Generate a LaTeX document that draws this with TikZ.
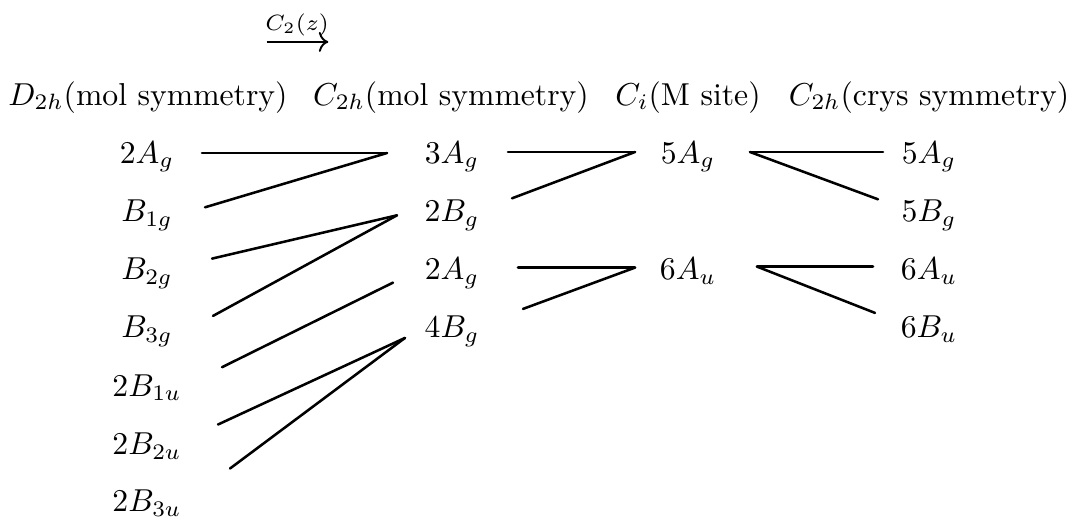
\documentclass[tikz,border=0pt]{standalone}
\usepackage{amsmath}
\usetikzlibrary{arrows.meta, calc}

\begin{document}
\begin{tikzpicture}[
    x=0.3155pt, y=-0.3155pt,
    head/.style={anchor=base, inner sep=0pt},
    irrep/.style={anchor=base, inner sep=0pt},
    corr/.style={line width=0.8pt, line cap=round},
]
    \useasboundingbox (0,0) rectangle (1073,517);

    %==================== DESCENT LABEL ====================
    \node[irrep, font=\scriptsize] (cz) at (297,30) {$C_2(z)$};
    \draw[line width=0.6pt, -{To[length=3pt]}] ([shift={(2,-1.8pt)}]cz.south west) -- ([shift={(-1,-1.8pt)}]cz.south east);

    %==================== HEADERS ====================
    \node[head] (hdD) at (148,105) {$D_{2h}$(mol symmetry)};
    \node[head] (hdCm) at (451,105) {$C_{2h}$(mol symmetry)};
    \node[head] (hdCi) at (688,105) {$C_i$(M site)};
    \node[head] (hdCc) at (929,105) {$C_{2h}$(crys symmetry)};

    %==================== D2h (mol) ====================
    \node[irrep] (dAg)  at (147,163)   {$2A_g$};
    \node[irrep] (dBg1) at (147,221.3) {$B_{1g}$};
    \node[irrep] (dBg2) at (147,279.6) {$B_{2g}$};
    \node[irrep] (dBg3) at (147,337.9) {$B_{3g}$};
    \node[irrep] (dBu1) at (147,396.2) {$2B_{1u}$};
    \node[irrep] (dBu2) at (147,454.5) {$2B_{2u}$};
    \node[irrep] (dBu3) at (147,511.5) {$2B_{3u}$};

    %==================== C2h (mol) ====================
    \node[irrep] (mAg3) at (452,163)   {$3A_g$};
    \node[irrep] (mBg2) at (452,221.3) {$2B_g$};
    \node[irrep] (mAg2) at (452,279.6) {$2A_g$};
    \node[irrep] (mBg4) at (452,337.9) {$4B_g$};

    %==================== Ci (M site) ====================
    \node[irrep] (sAg) at (688,163)   {$5A_g$};
    \node[irrep] (sAu) at (688,279.6) {$6A_u$};

    %==================== C2h (crys) ====================
    \node[irrep] (cAg) at (929,163)   {$5A_g$};
    \node[irrep] (cBg) at (929,221.3) {$5B_g$};
    \node[irrep] (cAu) at (929,279.6) {$6A_u$};
    \node[irrep] (cBu) at (929,337.9) {$6B_u$};

    %==================== correlation lines ====================
    % D2h -> C2h (mol)
    \draw[corr] ([shift={(55,-10)}]dAg.base)  -- ([shift={(-65,-10)}]mAg3.base);
    \draw[corr] ([shift={(58,-14)}]dBg1.base) -- ([shift={(-65,-10)}]mAg3.base);
    \draw[corr] ([shift={(65,-21)}]dBg2.base) -- ([shift={(-55,-6)}]mBg2.base);
    \draw[corr] ([shift={(66,-22)}]dBg3.base) -- ([shift={(-55,-6)}]mBg2.base);
    \draw[corr] ([shift={(75,-29)}]dBu1.base) -- ([shift={(-59,3)}]mAg2.base);
    \draw[corr] ([shift={(71,-30)}]dBu2.base) -- ([shift={(-47,0)}]mBg4.base);
    \draw[corr] ([shift={(83,-43)}]dBu3.base) -- ([shift={(-47,0)}]mBg4.base);

    % C2h (mol) -> Ci
    \draw[corr] ([shift={(56,-11)}]mAg3.base) -- ([shift={(-53,-11)}]sAg.base);
    \draw[corr] ([shift={(60,-23)}]mBg2.base) -- ([shift={(-53,-11)}]sAg.base);
    \draw[corr] ([shift={(66,-12)}]mAg2.base) -- ([shift={(-53,-12)}]sAu.base);
    \draw[corr] ([shift={(71,-29)}]mBg4.base) -- ([shift={(-53,-12)}]sAu.base);

    % Ci -> C2h (crys)
    \draw[corr] ([shift={(62,-11)}]sAg.base) -- ([shift={(-46,-11)}]cAg.base);
    \draw[corr] ([shift={(62,-11)}]sAg.base) -- ([shift={(-51,-22)}]cBg.base);
    \draw[corr] ([shift={(69,-13)}]sAu.base) -- ([shift={(-56,-13)}]cAu.base);
    \draw[corr] ([shift={(69,-13)}]sAu.base) -- ([shift={(-54,-25)}]cBu.base);

\end{tikzpicture}
\end{document}
